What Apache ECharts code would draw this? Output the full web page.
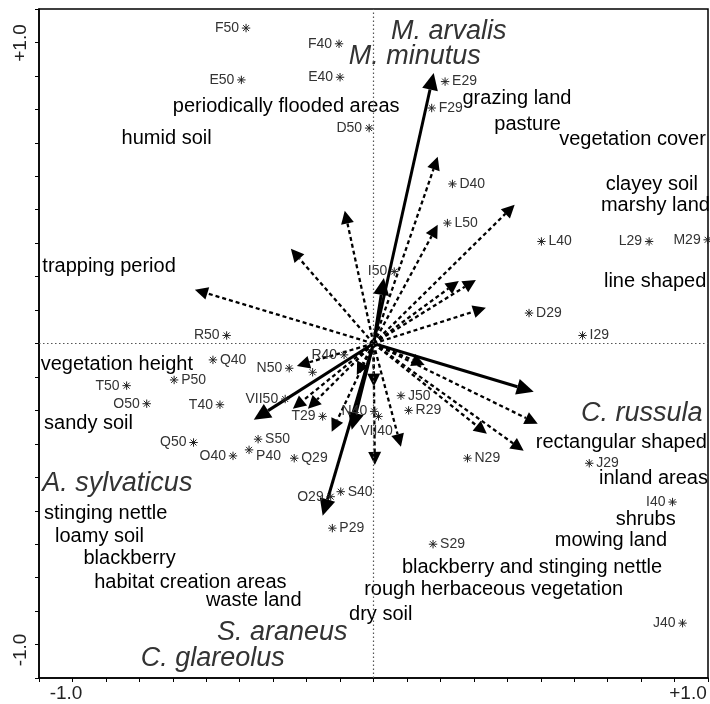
<!DOCTYPE html>
<html>
<head>
<meta charset="utf-8">
<script src="https://cdn.jsdelivr.net/npm/echarts@6/dist/echarts.min.js"></script>
<style>
html, body { margin: 0; padding: 0; background: #fff; }
#chart { width: 710px; height: 704px; }
</style>
</head>
<body>
<div id="chart"></div>
<script>
// sample sites (asterisks)
var sampleNames = ['F50', 'F40', 'E50', 'E40', 'D50', 'E29', 'F29', 'D40', 'L50', 'L40',
  'L29', 'M29', 'I50', 'D29', 'I29', 'R50', 'Q40', 'N50', 'R40', '',
  'P50', 'T50', 'O50', 'T40', 'VII50', 'T29', 'Q50', 'S50', 'O40', 'P40',
  'Q29', 'O29', 'S40', 'P29', 'N40', 'VII40', 'J50', 'R29', 'N29', 'J29',
  'I40', 'S29', 'J40'];
var sampleX = [-0.381, -0.103, -0.395, -0.100, -0.013, 0.214, 0.174, 0.236, 0.221, 0.502,
  0.824, 0.999, 0.062, 0.465, 0.625, -0.439, -0.480, -0.252, -0.088, -0.182,
  -0.596, -0.738, -0.678, -0.459, -0.264, -0.152, -0.538, -0.345, -0.420, -0.372,
  -0.237, -0.128, -0.098, -0.123, 0.002, 0.015, 0.082, 0.105, 0.281, 0.645,
  0.894, 0.178, 0.924];
var sampleY = [0.943, 0.896, 0.788, 0.796, 0.644, 0.783, 0.704, 0.477, 0.360, 0.305,
  0.305, 0.310, 0.215, 0.091, 0.024, 0.024, -0.049, -0.074, -0.034, -0.086,
  -0.109, -0.126, -0.180, -0.183, -0.166, -0.218, -0.296, -0.286, -0.336, -0.318,
  -0.343, -0.458, -0.443, -0.552, -0.203, -0.218, -0.156, -0.200, -0.343, -0.358,
  -0.474, -0.600, -0.836];

// environmental variables (dashed arrows)
var envX = [0.192, 0.192, 0.422, 0.255, 0.306, 0.336, -0.086, -0.247, -0.534, -0.229,
  -0.241, -0.196, -0.125, -0.050, 0.001, 0.004, 0.082, 0.153, 0.491, 0.339, 0.449];
var envY = [0.558, 0.355, 0.415, 0.187, 0.190, 0.107, 0.397, 0.283, 0.161, -0.067,
  -0.195, -0.195, -0.264, -0.094, -0.129, -0.363, -0.309, -0.064, -0.240, -0.270, -0.321];

// species (solid arrows)
var speciesNames = ['M. arvalis', 'M. minutus', 'C. russula', 'A. sylvaticus', 'S. araneus', 'C. glareolus'];
var speciesX = [0.180, 0.031, 0.479, -0.358, -0.152, -0.065];
var speciesY = [0.809, 0.196, -0.144, -0.228, -0.515, -0.258];
var speciesLabelX = [0.052, -0.074, 0.620, -0.990, -0.468, -0.696];
var speciesLabelY = [0.933, 0.858, -0.208, -0.419, -0.864, -0.943];

// nominal variables (centroid labels)
var factorNames = ['periodically flooded areas', 'humid soil', 'grazing land', 'pasture',
  'vegetation cover', 'clayey soil', 'marshy land', 'line shaped', 'trapping period',
  'vegetation height', 'sandy soil', 'rectangular shaped', 'inland areas', 'shrubs',
  'mowing land', 'blackberry and stinging nettle', 'rough herbaceous vegetation', 'dry soil',
  'stinging nettle', 'loamy soil', 'blackberry', 'habitat creation areas', 'waste land'];
var factorX = [-0.600, -0.753, 0.266, 0.361, 0.555, 0.694, 0.680, 0.689, -0.990,
  -0.995, -0.985, 0.485, 0.674, 0.724, 0.542, 0.085, -0.028, -0.073,
  -0.985, -0.952, -0.867, -0.835, -0.501];
var factorY = [0.709, 0.614, 0.731, 0.654, 0.609, 0.474, 0.412, 0.185, 0.230,
  -0.064, -0.240, -0.296, -0.405, -0.527, -0.589, -0.671, -0.736, -0.811,
  -0.509, -0.577, -0.642, -0.715, -0.768];

// which sample labels go right of / under the star (rest go left)
var rightLabelled = ['E29', 'F29', 'D40', 'L50', 'L40', 'D29', 'I29', 'Q40', 'P50', 'S50',
  'P40', 'Q29', 'S40', 'P29', 'J50', 'R29', 'N29', 'J29', 'S29'];
var belowLabelled = ['VII40'];

var FONT = 'Liberation Sans, Arial, sans-serif';

function zip(xs, ys) {
  return xs.map(function (x, i) { return [x, ys[i]]; });
}

// arrow from origin to the data point
function arrowRender(width, headLen, headW, dash) {
  return function (params, api) {
    var o = api.coord([0, 0]);
    var p = api.coord([api.value(0), api.value(1)]);
    var dx = p[0] - o[0], dy = p[1] - o[1];
    var len = Math.sqrt(dx * dx + dy * dy);
    var ux = dx / len, uy = dy / len;
    var bx = p[0] - ux * headLen, by = p[1] - uy * headLen;
    return {
      type: 'group',
      children: [{
        type: 'line',
        shape: { x1: o[0], y1: o[1], x2: bx, y2: by },
        style: { stroke: '#000', lineWidth: width, lineDash: dash }
      }, {
        type: 'polygon',
        shape: { points: [[p[0], p[1]], [bx - uy * headW, by + ux * headW], [bx + uy * headW, by - ux * headW]] },
        style: { fill: '#000' }
      }]
    };
  };
}

function textRender(names, style) {
  return function (params, api) {
    var p = api.coord([api.value(0), api.value(1)]);
    return {
      type: 'text',
      x: p[0], y: p[1],
      style: Object.assign({ text: names[params.dataIndex], align: 'left', verticalAlign: 'middle' }, style)
    };
  };
}

var chart = echarts.init(document.getElementById('chart'));

var option = {
  animation: false,
  grid: { left: 39, top: 9, right: 2, bottom: 26, show: true, borderColor: '#000', borderWidth: 1.5 },
  xAxis: {
    type: 'value', min: -1, max: 1, interval: 0.1,
    axisLine: { onZero: false, lineStyle: { color: '#000', width: 1.5 } },
    axisTick: { show: true, length: 4, lineStyle: { color: '#000' } },
    axisLabel: { show: false },
    splitLine: { show: false }
  },
  yAxis: {
    type: 'value', min: -1, max: 1, interval: 0.1,
    axisLine: { onZero: false, lineStyle: { color: '#000', width: 1.5 } },
    axisTick: { show: true, length: 4, lineStyle: { color: '#000' } },
    axisLabel: { show: false },
    splitLine: { show: false }
  },
  graphic: [
    { type: 'text', x: 66, y: 694, style: { text: '-1.0', font: '19px ' + FONT, fill: '#222', align: 'center', verticalAlign: 'middle' } },
    { type: 'text', x: 688, y: 694, style: { text: '+1.0', font: '19px ' + FONT, fill: '#222', align: 'center', verticalAlign: 'middle' } },
    { type: 'text', x: 21, y: 43, rotation: Math.PI / 2, style: { text: '+1.0', font: '19px ' + FONT, fill: '#222', align: 'center', verticalAlign: 'middle' } },
    { type: 'text', x: 21, y: 650, rotation: Math.PI / 2, style: { text: '-1.0', font: '19px ' + FONT, fill: '#222', align: 'center', verticalAlign: 'middle' } }
  ],
  series: [
    {
      // zero lines
      type: 'scatter',
      data: [],
      silent: true,
      markLine: {
        silent: true,
        symbol: 'none',
        label: { show: false },
        lineStyle: { color: '#555', width: 1.2, type: [1.5, 2.5] },
        data: [{ xAxis: 0 }, { yAxis: 0 }]
      }
    },
    {
      type: 'custom',
      data: zip(envX, envY),
      renderItem: arrowRender(2.3, 13, 6.5, [4, 3])
    },
    {
      type: 'custom',
      data: zip(speciesX, speciesY),
      renderItem: arrowRender(3, 17, 8, null)
    },
    {
      // sample sites
      type: 'custom',
      data: zip(sampleX, sampleY),
      renderItem: function (params, api) {
        var p = api.coord([api.value(0), api.value(1)]);
        var r = 4.2, d = r * 0.707;
        var name = sampleNames[params.dataIndex];
        var star = { stroke: '#222', lineWidth: 1 };
        var children = [
          { type: 'line', shape: { x1: p[0] - r, y1: p[1], x2: p[0] + r, y2: p[1] }, style: star },
          { type: 'line', shape: { x1: p[0], y1: p[1] - r, x2: p[0], y2: p[1] + r }, style: star },
          { type: 'line', shape: { x1: p[0] - d, y1: p[1] - d, x2: p[0] + d, y2: p[1] + d }, style: star },
          { type: 'line', shape: { x1: p[0] - d, y1: p[1] + d, x2: p[0] + d, y2: p[1] - d }, style: star }
        ];
        var tx = p[0] - 7, ty = p[1], align = 'right';
        if (rightLabelled.indexOf(name) >= 0) { tx = p[0] + 7; align = 'left'; }
        if (name === 'P40') { ty = p[1] + 6; }
        if (belowLabelled.indexOf(name) >= 0) { tx = p[0] - 2; ty = p[1] + 15; align = 'center'; }
        children.push({
          type: 'text', x: tx, y: ty,
          style: { text: name, font: '14px ' + FONT, fill: '#333', align: align, verticalAlign: 'middle' }
        });
        return { type: 'group', children: children };
      }
    },
    {
      type: 'custom',
      data: zip(factorX, factorY),
      renderItem: textRender(factorNames, { font: '20px ' + FONT, fill: '#000' })
    },
    {
      type: 'custom',
      data: zip(speciesLabelX, speciesLabelY),
      renderItem: textRender(speciesNames, { font: 'italic 27px ' + FONT, fill: '#333' })
    }
  ]
};

chart.setOption(option);
</script>
</body>
</html>
